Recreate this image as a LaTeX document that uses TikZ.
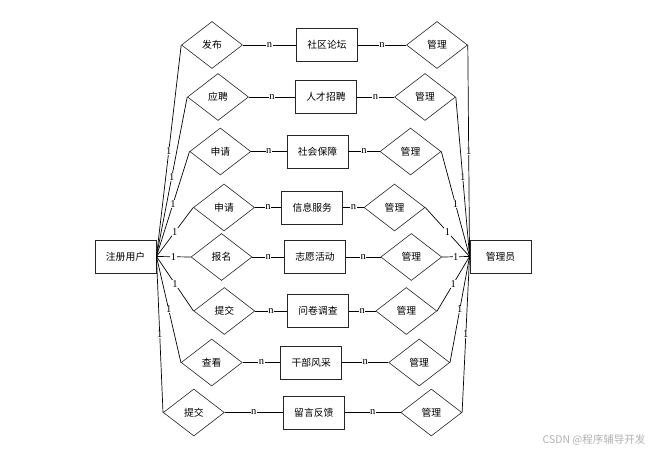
\documentclass[tikz,border=0pt]{standalone}
\usepackage{fontspec}
\newfontfamily\cjk{Noto Sans CJK SC}
\newfontfamily\lblfont{Liberation Serif}
\usetikzlibrary{shapes.geometric}
\begin{document}
\begin{tikzpicture}[x=1pt,y=-1pt,
  ent/.style={draw=black!85,line width=0.9pt,rectangle,minimum width=61pt,minimum height=33pt,inner sep=0pt,font=\cjk\fontsize{9.8}{11}\selectfont},
  rel/.style={draw=black!85,line width=0.6pt,diamond,aspect=1.3,minimum width=61pt,minimum height=47pt,inner sep=0pt,font=\cjk\fontsize{9.8}{11}\selectfont},
  conn/.style={draw=black,line width=0.7pt},
  lbl/.style={fill=white,inner sep=0.5pt,font=\lblfont\fontsize{10.5}{11}\selectfont}
]
\useasboundingbox (0,0) rectangle (663,454);
\fill[white] (0,0) rectangle (663,454);

\node[ent] (U) at (125.5,256.5) {注册用户};
\node[ent] (A) at (500.5,256.5) {管理员};

% row 1
\node[rel] (d1) at (212,45) {发布};
\node[ent] (e1) at (327,45) {社区论坛};
\node[rel] (m1) at (437,45) {管理};
% row 2
\node[rel] (d2) at (218,97) {应聘};
\node[ent] (e2) at (326,97) {人才招聘};
\node[rel] (m2) at (425,97) {管理};
% row 3
\node[rel] (d3) at (220.3,151.5) {申请};
\node[ent] (e3) at (317.5,151.5) {社会保障};
\node[rel] (m3) at (410.5,151.5) {管理};
% row 4
\node[rel] (d4) at (224,207.5) {申请};
\node[ent] (e4) at (312.3,207.5) {信息服务};
\node[rel] (m4) at (394.5,207.5) {管理};
% row 5
\node[rel] (d5) at (221.5,257) {报名};
\node[ent] (e5) at (315,257) {志愿活动};
\node[rel] (m5) at (411.3,257) {管理};
% row 6
\node[rel] (d6) at (224.3,311) {提交};
\node[ent] (e6) at (318,311) {问卷调查};
\node[rel] (m6) at (406.3,311) {管理};
% row 7
\node[rel] (d7) at (211.7,362.5) {查看};
\node[ent] (e7) at (311.2,362.5) {干部风采};
\node[rel] (m7) at (419.2,362.5) {管理};
% row 8
\node[rel] (d8) at (193.8,412.5) {提交};
\node[ent] (e8) at (313.8,412.5) {留言反馈};
\node[rel] (m8) at (431.3,412.5) {管理};

\foreach \i in {1,...,8}{
  \draw[conn] (U.east) -- node[lbl]{1} (d\i.west);
  \draw[conn] (d\i.east) -- node[lbl]{n} (e\i.west);
  \draw[conn] (e\i.east) -- node[lbl]{n} (m\i.west);
  \draw[conn] (m\i.east) -- node[lbl]{1} (A.west);
}

\node[text=black!30,font=\cjk\fontsize{10.5}{12}\selectfont] (wm) at (594,440) {CSDN @程序辅导开发};
\end{tikzpicture}
\end{document}
